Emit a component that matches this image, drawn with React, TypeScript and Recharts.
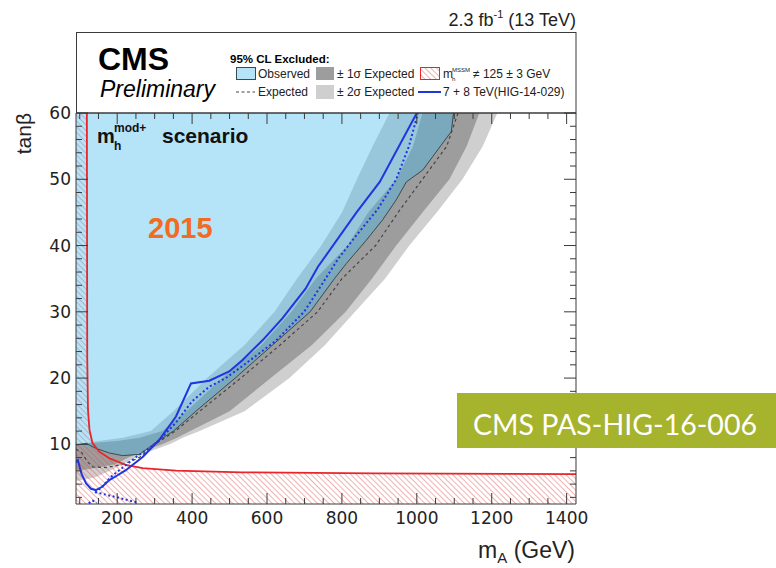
import { ComposedChart, Area, Line, XAxis, YAxis } from 'recharts';

const W = 776;
const H = 568;
const SANS = '"Liberation Sans", Arial, Helvetica, sans-serif';
const AX = '#3a3a3a';

// axis ticks (ROOT style: inward, major + minor)
const xTicks = [100, 150, 200, 250, 300, 350, 400, 450, 500, 550, 600, 650, 700, 750, 800, 850, 900, 950, 1000, 1050, 1100, 1150, 1200, 1250, 1300, 1350, 1400];
const xLabels = [200, 400, 600, 800, 1000, 1200, 1400];
const yTicks = [2, 4, 6, 8, 10, 12, 14, 16, 18, 20, 22, 24, 26, 28, 30, 32, 34, 36, 38, 40, 42, 44, 46, 48, 50, 52, 54, 56, 58, 60];
const yLabels = [10, 20, 30, 40, 50, 60];

// ±2σ expected band, as mA range per tanβ
const sig2Tb = [4.5, 5, 6, 7, 8, 9, 10, 10.5, 11, 12, 15, 20, 25, 30, 35, 40, 45, 50, 55, 60];
const sig2Lo = [90, 90, 90, 90, 90, 90, 90, 150, 215, 290, 350, 440, 540, 620, 680, 745, 800, 840, 882, 927];
const sig2Hi = [95, 140, 180, 215, 250, 290, 340, 358, 375, 420, 540, 660, 755, 835, 915, 980, 1053, 1122, 1176, 1215];

// ±1σ expected band
const sig1Tb = [6, 6.5, 7, 8, 9, 10, 10.5, 11, 12, 15, 20, 25, 30, 35, 40, 45, 50, 55, 60];
const sig1Lo = [90, 90, 90, 90, 90, 90, 200, 260, 320, 385, 480, 585, 665, 730, 815, 870, 945, 990, 1015];
const sig1Hi = [95, 150, 195, 230, 270, 320, 340, 360, 395, 500, 610, 720, 810, 880, 945, 1015, 1087, 1133, 1167];

// observed excluded region
const obsTb = [8.3, 8.5, 8.7, 9.4, 9.9, 10.3, 12, 15, 20, 25, 30, 35, 37.3, 40.8, 43.9, 46.9, 49.6, 51.4, 57.2, 60];
const obsLo = [225, 205, 179, 143, 90, 90, 90, 90, 90, 90, 90, 90, 90, 90, 90, 90, 90, 90, 90, 90];
const obsHi = [240, 259, 268, 282, 296, 303, 350, 410, 515, 615, 715, 780, 812, 865, 909, 945, 972, 1016, 1092, 1098];

// observed contour line
const obsLineMa = [90, 117, 143, 179, 214, 259, 280, 303, 350, 410, 515, 615, 715, 780, 812, 865, 909, 945, 972, 1016, 1092, 1098];
const obsLineTb = [9.9, 10.15, 9.4, 8.7, 8.3, 8.5, 9.3, 10.3, 12, 15, 20, 25, 30, 35, 37.3, 40.8, 43.9, 46.9, 49.6, 51.4, 57.2, 60];

// expected (median) contour
const expMa = [90, 106, 120, 135, 170, 207, 240, 261, 285, 300, 355, 420, 530, 635, 735, 800, 890, 950, 1015, 1080, 1110];
const expTb = [9.3, 8.7, 7.4, 6.6, 6.5, 6.9, 7.5, 8.1, 9.2, 10, 12, 15, 20, 25, 30, 35, 40, 45, 50, 55, 60];

// 7 + 8 TeV (HIG-14-029) observed
const runOneMa = [90, 95, 105, 117, 130, 143, 160, 179, 200, 223, 268, 312, 357, 397, 446, 499, 534, 588, 641, 703, 736, 839, 901, 1000];
const runOneTb = [7.3, 7.6, 5.5, 4.1, 3.3, 3.1, 3.6, 4.6, 5.3, 6.1, 8.1, 10.65, 14.2, 19.2, 19.6, 21.0, 22.7, 25.7, 29.0, 33.5, 36.8, 45, 49.6, 60];

// 7 + 8 TeV expected
const runOneExpMa = [141, 160, 181, 215, 253, 290, 312, 357, 400, 446, 490, 534, 623, 699, 745, 790, 838, 896, 945, 979, 1003];
const runOneExpTb = [2.7, 3.6, 5.0, 6.5, 8.2, 9.6, 10.6, 13.3, 16.5, 18.7, 20.0, 21.8, 25.6, 30, 34, 38, 41.5, 45.5, 50, 55, 60];
const runOneLowMa = [141, 200, 255];
const runOneLowTb = [2.8, 2.0, 1.2];
const runOneBlobMa = [124, 134, 146];
const runOneBlobTb = [1.1, 1.5, 1.2];

// m_h^MSSM != 125 ± 3 GeV boundary
const mhMa = [119, 120, 122, 126, 134, 152, 179, 223, 268, 357, 534, 890, 1425];
const mhTb = [60, 23, 15.2, 12.2, 10.2, 8.9, 7.9, 6.9, 6.4, 6.03, 5.78, 5.63, 5.5];

const toBand = (tb: number[], lo: number[], hi: number[]) =>
  tb.map((t, i) => ({ tb: t, range: [lo[i], hi[i]] }));
const toCurve = (ma: number[], tb: number[]) => ma.map((m, i) => ({ ma: m, tb: tb[i] }));

const sig2Data = toBand(sig2Tb, sig2Lo, sig2Hi);
const sig1Data = toBand(sig1Tb, sig1Lo, sig1Hi);
const obsData = toBand(obsTb, obsLo, obsHi);
const mhHatchData = [
  { tb: 1, range: [90, 1425] },
  ...mhTb.map((t, i) => ({ tb: t, range: [90, mhMa[i]] })).reverse(),
];

function BottomTick(p: any) {
  const v = p.payload.value;
  const major = xLabels.includes(v);
  return (
    <g>
      <line x1={p.x} x2={p.x} y1={p.y} y2={p.y - (major ? 11 : 6)} stroke={AX} />
      {major && (
        <text x={p.x} y={p.y + 20} textAnchor="middle" fontFamily='"DejaVu Sans", sans-serif' fontSize={17} fill="#222">
          {v}
        </text>
      )}
    </g>
  );
}

function TopTick(p: any) {
  const major = xLabels.includes(p.payload.value);
  return <line x1={p.x} x2={p.x} y1={p.y} y2={p.y + (major ? 11 : 6)} stroke={AX} />;
}

function LeftTick(p: any) {
  const v = p.payload.value;
  const major = yLabels.includes(v);
  return (
    <g>
      <line x1={p.x} x2={p.x + (major ? 12 : 6)} y1={p.y} y2={p.y} stroke={AX} />
      {major && (
        <text x={p.x - 5} y={p.y + 6} textAnchor="end" fontFamily='"DejaVu Sans", sans-serif' fontSize={17} fill="#222">
          {v}
        </text>
      )}
    </g>
  );
}

function RightTick(p: any) {
  const major = yLabels.includes(p.payload.value);
  return <line x1={p.x} x2={p.x - (major ? 12 : 6)} y1={p.y} y2={p.y} stroke={AX} />;
}

export default function App() {
  return (
    <div style={{ position: 'absolute', left: 0, top: 0, width: W, height: H, background: '#fff' }}>
      <ComposedChart
        width={W}
        height={H}
        layout="vertical"
        margin={{ top: 112, right: 199, bottom: 34, left: 36 }}
      >
        <defs>
          <pattern id="mhHatch" width={4} height={4} patternUnits="userSpaceOnUse" patternTransform="rotate(-45)">
            <line x1={0} y1={0} x2={0} y2={4} stroke="#dd4a4a" strokeWidth={1.1} strokeOpacity={0.8} />
          </pattern>
        </defs>
        <Area data={sig2Data} dataKey="range" type="linear" fill="#cfcfcf" fillOpacity={1} stroke="none" isAnimationActive={false} />
        <Area data={sig1Data} dataKey="range" type="linear" fill="#9d9d9d" fillOpacity={1} stroke="none" isAnimationActive={false} />
        <Area data={mhHatchData} dataKey="range" type="linear" fill="url(#mhHatch)" fillOpacity={1} stroke="none" isAnimationActive={false} />
        <Area data={obsData} dataKey="range" type="linear" fill="#46b9eb" fillOpacity={0.4} stroke="none" isAnimationActive={false} />
        <Line data={toCurve(obsLineMa, obsLineTb)} dataKey="ma" type="linear" stroke="#3b4a4c" strokeWidth={1} dot={false} activeDot={false} isAnimationActive={false} />
        <Line data={toCurve(expMa, expTb)} dataKey="ma" type="linear" stroke="#444" strokeWidth={1.2} strokeDasharray="3 3" dot={false} activeDot={false} isAnimationActive={false} />
        <Line data={toCurve(mhMa, mhTb)} dataKey="ma" type="linear" stroke="#e8262a" strokeWidth={1.8} dot={false} activeDot={false} isAnimationActive={false} />
        <Line data={toCurve(runOneExpMa, runOneExpTb)} dataKey="ma" type="linear" stroke="#2035e0" strokeWidth={2} strokeDasharray="2 2.5" dot={false} activeDot={false} isAnimationActive={false} />
        <Line data={toCurve(runOneLowMa, runOneLowTb)} dataKey="ma" type="linear" stroke="#2035e0" strokeWidth={2} strokeDasharray="2 2.5" dot={false} activeDot={false} isAnimationActive={false} />
        <Line data={toCurve(runOneBlobMa, runOneBlobTb)} dataKey="ma" type="linear" stroke="#2035e0" strokeWidth={2} strokeDasharray="2 2.5" dot={false} activeDot={false} isAnimationActive={false} />
        <Line data={toCurve(runOneMa, runOneTb)} dataKey="ma" type="linear" stroke="#2035e0" strokeWidth={2} dot={false} activeDot={false} isAnimationActive={false} />
        <XAxis
          type="number"
          dataKey="ma"
          domain={[90, 1425]}
          allowDataOverflow
          ticks={xTicks}
          interval={0}
          height={30}
          tickSize={0}
          tickMargin={0}
          axisLine={{ stroke: AX }}
          tickLine={false}
          tick={BottomTick}
        />
        <XAxis
          xAxisId="top"
          orientation="top"
          type="number"
          dataKey="ma"
          domain={[90, 1425]}
          allowDataOverflow
          ticks={xTicks}
          interval={0}
          height={1}
          tickSize={0}
          tickMargin={0}
          axisLine={{ stroke: AX }}
          tickLine={false}
          tick={TopTick}
        />
        <YAxis
          type="number"
          dataKey="tb"
          domain={[1, 60]}
          reversed
          allowDataOverflow
          ticks={yTicks}
          interval={0}
          width={40}
          tickSize={0}
          tickMargin={0}
          axisLine={{ stroke: AX }}
          tickLine={false}
          tick={LeftTick}
        />
        <YAxis
          yAxisId="right"
          orientation="right"
          type="number"
          dataKey="tb"
          domain={[1, 60]}
          reversed
          allowDataOverflow
          ticks={yTicks}
          interval={0}
          width={1}
          tickSize={0}
          tickMargin={0}
          axisLine={{ stroke: AX }}
          tickLine={false}
          tick={RightTick}
        />
      </ComposedChart>

      <svg width={W} height={H} style={{ position: 'absolute', left: 0, top: 0, pointerEvents: 'none' }} fontFamily={SANS}>
        <defs>
          <pattern id="legHatch" width={4} height={4} patternUnits="userSpaceOnUse" patternTransform="rotate(-45)">
            <line x1={0} y1={0} x2={0} y2={4} stroke="#dd4a4a" strokeWidth={1.1} strokeOpacity={0.8} />
          </pattern>
        </defs>
        {/* legend box */}
        <rect x={76.5} y={32.5} width={499.5} height={80.5} fill="none" stroke={AX} />
        <text x={576} y={26} textAnchor="end" fontSize={18} fill="#222">
          2.3 fb<tspan fontSize={11} dy={-8}>-1</tspan>
          <tspan dy={8}>{'\u00a0(13 TeV)'}</tspan>
        </text>
        <text x={98} y={70} fontSize={32} fontWeight="bold" fill="#000">CMS</text>
        <text x={100} y={97} fontSize={23} fontStyle="italic" fill="#000">Preliminary</text>
        <text x={230} y={63} fontSize={11.5} fontWeight="bold" fill="#000">95% CL Excluded:</text>

        <rect x={236.5} y={67.5} width={19} height={12} fill="#b5e3f7" stroke="#3b4a4c" />
        <text x={258} y={78} fontSize={12} fill="#222">Observed</text>
        <rect x={316} y={67} width={18} height={13} fill="#9d9d9d" />
        <text x={337} y={78} fontSize={12} fill="#222">± 1σ Expected</text>
        <rect x={420.5} y={67.5} width={19} height={12} fill="url(#legHatch)" stroke="#e8262a" />
        <text x={443} y={78} fontSize={12} fill="#222">m</text>
        <text x={452} y={81} fontSize={6} fill="#222">h</text>
        <text x={452} y={72} fontSize={6} fill="#222">MSSM</text>
        <text x={473} y={78} fontSize={12} fill="#222">≠ 125 ± 3 GeV</text>

        <line x1={236} x2={255} y1={92} y2={92} stroke="#444" strokeDasharray="3 2.5" />
        <text x={258} y={96} fontSize={12} fill="#222">Expected</text>
        <rect x={316} y={85} width={18} height={14} fill="#cfcfcf" />
        <text x={337} y={96} fontSize={12} fill="#222">± 2σ Expected</text>
        <line x1={418} x2={441} y1={92} y2={92} stroke="#2035e0" strokeWidth={2} />
        <text x={443} y={96} fontSize={12} fill="#222">7 + 8 TeV(HIG-14-029)</text>

        {/* axis titles */}
        <text transform="translate(31,113) rotate(-90)" textAnchor="end" fontSize={21} fill="#222">tanβ</text>
        <text x={575} y={558} textAnchor="end" fontSize={23} fill="#222">
          m<tspan fontSize={15} dy={5}>A</tspan>
          <tspan dy={-5}>{'\u00a0(GeV)'}</tspan>
        </text>

        {/* in-plot annotations */}
        <text x={97} y={143} fontSize={20} fontWeight="bold" fill="#111">m</text>
        <text x={114} y={132} fontSize={12} fontWeight="bold" fill="#111">mod+</text>
        <text x={114} y={150} fontSize={12} fontWeight="bold" fill="#111">h</text>
        <text x={162} y={143} fontSize={21} fontWeight="bold" fill="#111">scenario</text>
        <text x={148} y={238} fontSize={29} fontWeight="bold" fill="#f26b21">2015</text>

        {/* reference tag */}
        <rect x={457} y={393} width={319} height={55} fill="#a6b32c" />
        <text x={473} y={435} fontFamily="Lato, sans-serif" fontSize={29} fill="#fff" textLength={284} lengthAdjust="spacingAndGlyphs">
          CMS PAS-HIG-16-006
        </text>
      </svg>
    </div>
  );
}
